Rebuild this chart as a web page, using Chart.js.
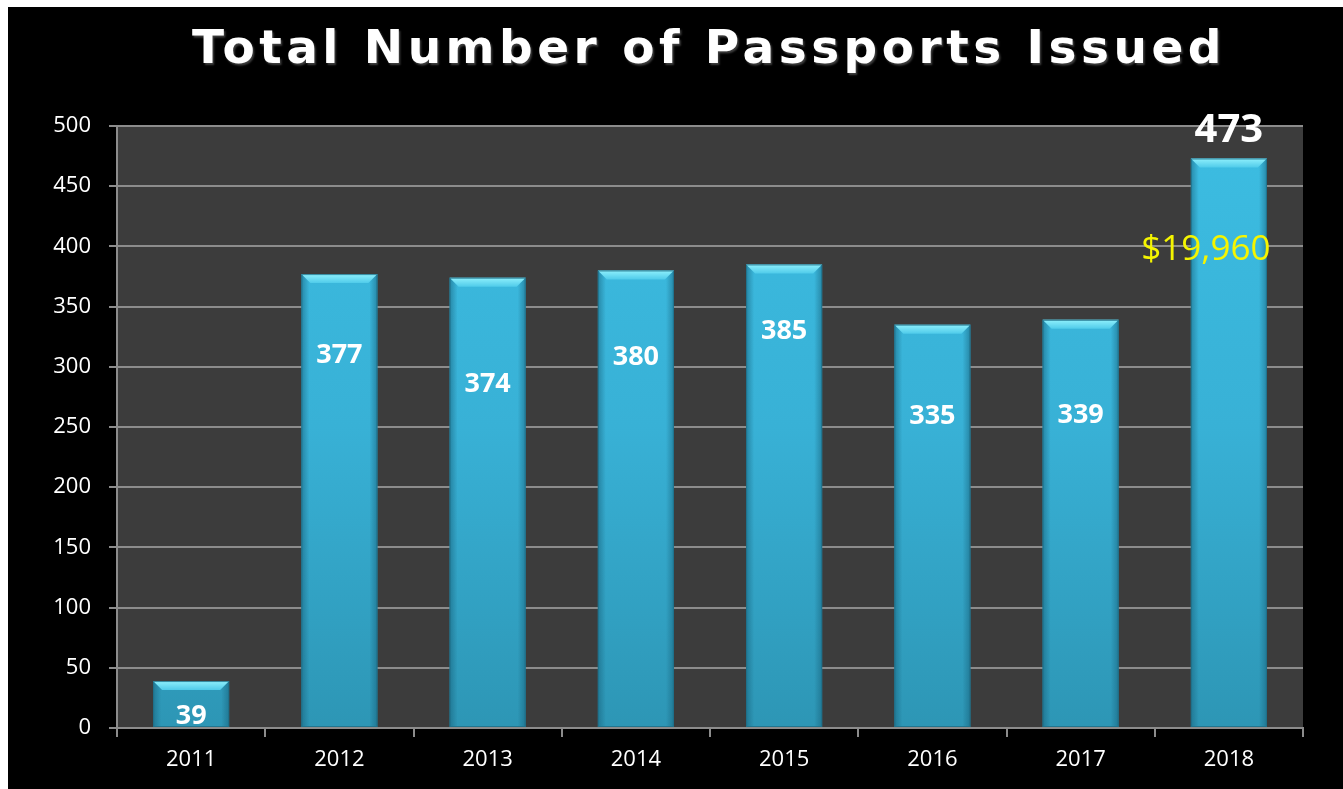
<!DOCTYPE html>
<html>
<head>
<meta charset="utf-8">
<title>Total Number of Passports Issued</title>
<script src="https://cdn.jsdelivr.net/npm/chart.js@4"></script>
<style>
  html, body { margin: 0; padding: 0; background: #fff; }
  #frame { position: absolute; left: 8px; top: 7px; width: 1335px; height: 782px; background: #000; }
  canvas { display: block; }
</style>
</head>
<body>
<div id="frame"><canvas id="passportChart" width="1335" height="782"></canvas></div>
<script>
// years and passports issued per year
const years = ['2011', '2012', '2013', '2014', '2015', '2016', '2017', '2018'];
const passports = [39, 377, 374, 380, 385, 335, 339, 473];
const yTicks = [0, 50, 100, 150, 200, 250, 300, 350, 400, 450, 500];
const chartTitle = 'Total Number of Passports Issued';
const revenueNote = '$19,960';

// where each value label sits, in px below the bar top (negative = above)
const labelDrop = [35, 81, 107, 87, 67, 92, 95, -28];

const plotBackground = {
    id: 'plotBackground',
    beforeDraw(chart) {
        const { ctx, chartArea: a } = chart;
        ctx.save();
        ctx.fillStyle = '#3c3c3c';
        ctx.fillRect(a.left, a.top, a.right - a.left, a.bottom - a.top);
        ctx.restore();
    }
};

// wide spaced heading over the plot
const spacedTitle = {
    id: 'spacedTitle',
    afterDraw(chart) {
        const { ctx, chartArea: a } = chart;
        ctx.save();
        ctx.font = 'bold 47px "DejaVu Sans"';
        ctx.letterSpacing = '4.5px';
        ctx.textAlign = 'center';
        ctx.textBaseline = 'alphabetic';
        ctx.shadowColor = 'rgba(140,140,140,0.45)';
        ctx.shadowBlur = 2;
        ctx.shadowOffsetX = 1.5;
        ctx.shadowOffsetY = 1.5;
        ctx.fillStyle = '#fff';
        ctx.fillText(chartTitle, (a.left + a.right) / 2 - 1, 56);
        ctx.restore();
    }
};

// bevelled top edge and darker sides on each bar
const barBevel = {
    id: 'barBevel',
    afterDatasetsDraw(chart) {
        const ctx = chart.ctx;
        chart.getDatasetMeta(0).data.forEach(bar => {
            const l = bar.x - bar.width / 2, r = bar.x + bar.width / 2;
            const t = bar.y, b = bar.base;
            ctx.save();
            // side shading
            let g = ctx.createLinearGradient(l, 0, l + 8, 0);
            g.addColorStop(0, 'rgba(20,90,115,0.5)');
            g.addColorStop(1, 'rgba(20,90,115,0)');
            ctx.fillStyle = g;
            ctx.fillRect(l, t, 8, b - t);
            g = ctx.createLinearGradient(r, 0, r - 8, 0);
            g.addColorStop(0, 'rgba(20,90,115,0.5)');
            g.addColorStop(1, 'rgba(20,90,115,0)');
            ctx.fillStyle = g;
            ctx.fillRect(r - 8, t, 8, b - t);
            // top bevel
            const h = 9;
            g = ctx.createLinearGradient(0, t, 0, t + h);
            g.addColorStop(0, '#8ff0fc');
            g.addColorStop(1, '#4fcbea');
            ctx.fillStyle = g;
            ctx.beginPath();
            ctx.moveTo(l, t);
            ctx.lineTo(r, t);
            ctx.lineTo(r - h, t + h);
            ctx.lineTo(l + h, t + h);
            ctx.closePath();
            ctx.fill();
            ctx.strokeStyle = 'rgba(30,110,135,0.8)';
            ctx.lineWidth = 1;
            ctx.strokeRect(l + 0.5, t + 0.5, r - l - 1, b - t - 1);
            ctx.restore();
        });
    }
};

const valueLabels = {
    id: 'valueLabels',
    afterDatasetsDraw(chart) {
        const ctx = chart.ctx;
        const bars = chart.getDatasetMeta(0).data;
        ctx.save();
        ctx.textAlign = 'center';
        ctx.textBaseline = 'middle';
        ctx.fillStyle = '#fff';
        bars.forEach((bar, i) => {
            const big = labelDrop[i] < 0;
            ctx.font = 'bold ' + (big ? 40 : 27) + 'px "Open Sans"';
            ctx.fillText(String(passports[i]), bar.x, bar.y + labelDrop[i]);
        });
        const last = bars[bars.length - 1];
        ctx.font = '35px "Open Sans"';
        ctx.fillStyle = '#f5f500';
        ctx.fillText(revenueNote, last.x - 23, last.y + 92);
        ctx.restore();
    }
};

const chartCtx = document.getElementById('passportChart').getContext('2d');
new Chart(chartCtx, {
    type: 'bar',
    data: {
        labels: years,
        datasets: [{
            data: passports,
            backgroundColor(c) {
                const a = c.chart.chartArea;
                if (!a) return '#3ab8dc';
                const g = c.chart.ctx.createLinearGradient(0, a.top, 0, a.bottom);
                g.addColorStop(0, '#3cbde2');
                g.addColorStop(0.5, '#38b1d6');
                g.addColorStop(1, '#2d96b5');
                return g;
            },
            borderWidth: 0,
            categoryPercentage: 1,
            barPercentage: 0.513
        }]
    },
    options: {
        responsive: false,
        animation: false,
        layout: { padding: { left: 0, right: 40, top: 119, bottom: 0 } },
        plugins: {
            legend: { display: false },
            tooltip: { enabled: false },
            title: { display: false }
        },
        scales: {
            x: {
                grid: {
                    offset: true,
                    drawOnChartArea: false,
                    color: '#8c8c8c',
                    lineWidth: 2,
                    tickLength: 9
                },
                border: { color: '#8c8c8c', width: 2 },
                ticks: { color: '#fff', font: { family: '"Open Sans"', size: 22 }, padding: 10 },
                afterFit(scale) { scale.height = 61; }
            },
            y: {
                min: 0,
                max: 500,
                afterBuildTicks(scale) { scale.ticks = yTicks.map(v => ({ value: v })); },
                grid: { color: '#8c8c8c', lineWidth: 2, tickLength: 8 },
                border: { color: '#8c8c8c', width: 2 },
                ticks: { color: '#fff', font: { family: '"Open Sans"', size: 22 }, padding: 18 },
                afterFit(scale) { scale.width = 109; }
            }
        }
    },
    plugins: [plotBackground, spacedTitle, barBevel, valueLabels]
});
</script>
</body>
</html>
